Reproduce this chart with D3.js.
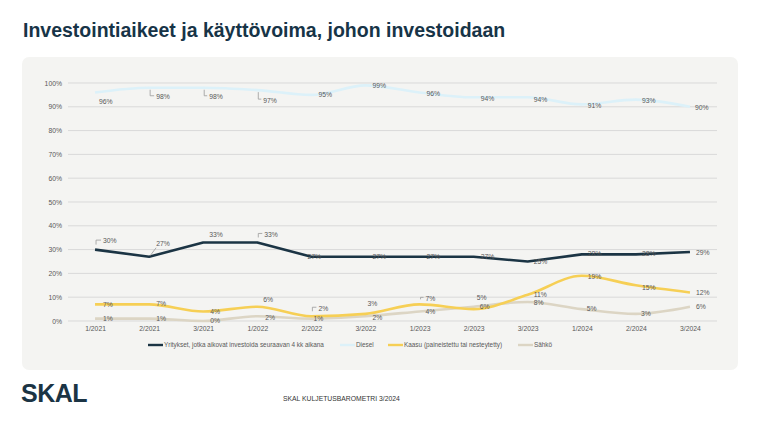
<!DOCTYPE html>
<html><head><meta charset="utf-8">
<script src="https://cdn.jsdelivr.net/npm/d3@7"></script>
<style>
html,body{margin:0;padding:0;background:#fff;}
svg{display:block;font-family:"Liberation Sans",Arial,sans-serif;}
</style></head>
<body>
<svg id="c" width="767" height="424"></svg>
<script>
// ---- data ----
const categories = ["1/2021","2/2021","3/2021","1/2022","2/2022","3/2022","1/2023","2/2023","3/2023","1/2024","2/2024","3/2024"];
const yritykset = [30,27,33,33,27,27,27,27,25,28,28,29];
const diesel    = [96,98,98,97,95,99,96,94,94,91,93,90];
const kaasu     = [7,7,4,6,2,3,7,5,11,19,15,12];
const sahko     = [1,1,0,2,1,2,4,6,8,5,3,6];
const yTicks    = [0,10,20,30,40,50,60,70,80,90,100];
const seriesNames = ["Yritykset, jotka aikovat investoida seuraavan 4 kk aikana","Diesel","Kaasu (paineistettu tai nesteytetty)","Sähkö"];
const title = "Investointiaikeet ja käyttövoima, johon investoidaan";
const footer = "SKAL KULJETUSBAROMETRI 3/2024";

// ---- label layout (offsets from the point, leader type) ----
const layYrit = [[8,-8.5,"up"],[7,-13,"diag"],[6,-7.5,""],[7,-8,"up"],[-4,0,""],[7,0,""],[7,0,""],[7,0,""],[6,0,""],[6,-1,""],[6,-1,""],[6,1,""]];
const layDiesel = [[4,9.5,""],[7,9,"down"],[6,9,"down"],[6,10,"down"],[7,0,""],[7,0,""],[7,1.5,""],[7,1,""],[6,2,""],[6,1,""],[6,1,""],[5,1,""]];
const layKaasu = [[8,0,""],[7,-1,""],[7,0,""],[6,-7,""],[7,-8,"up"],[2,-10,""],[6,-6,"up"],[3,-11,""],[6,0,""],[6,1,""],[6,2,""],[6,0,""]];
const laySahko = [[8,0,""],[7,0,""],[7,0,""],[8,1,""],[2,0,""],[7,1,""],[6,0,""],[6,0,""],[6,1,""],[5,0,""],[5,0,""],[6,0,""]];

const colors = ["#1b3444","#dcf1f9","#f6cf55","#dcd5c4"];
const series = [
  {name:seriesNames[0], values:yritykset, color:colors[0], lay:layYrit, curve:d3.curveLinear},
  {name:seriesNames[1], values:diesel, color:colors[1], lay:layDiesel, curve:d3.curveMonotoneX},
  {name:seriesNames[2], values:kaasu, color:colors[2], lay:layKaasu, curve:d3.curveMonotoneX},
  {name:seriesNames[3], values:sahko, color:colors[3], lay:laySahko, curve:d3.curveMonotoneX}
];

const svg = d3.select("#c");

// title
svg.append("text").attr("x",23).attr("y",37).attr("font-size",19.5).attr("font-weight","bold")
  .attr("fill","#173447").text(title);

// panel
svg.append("rect").attr("x",22).attr("y",57).attr("width",716).attr("height",313).attr("rx",7)
  .attr("fill","#f4f4f2");

const x = d3.scalePoint().domain(categories).range([68,717]).padding(0.5);
const y = d3.scaleLinear().domain([0,100]).range([321,83]);

// gridlines
const grid = svg.append("g");
grid.selectAll("line").data(yTicks).join("line")
  .attr("x1",68).attr("x2",717).attr("y1",d=>y(d)).attr("y2",d=>y(d))
  .attr("stroke","#d9d9d9").attr("stroke-width",1);

// y axis
const yAxis = d3.axisLeft(y).tickValues(yTicks).tickFormat(d=>d+"%").tickSize(0).tickPadding(0);
const gy = svg.append("g").attr("transform","translate(62,0)").call(yAxis);
gy.select(".domain").remove();
gy.selectAll("text").attr("font-size",6.8).attr("fill","#595959").attr("font-family","Liberation Sans, Arial, sans-serif");

// x axis
const xAxis = d3.axisBottom(x).tickSize(0).tickPadding(0);
const gx = svg.append("g").attr("transform","translate(0,326)").call(xAxis);
gx.select(".domain").remove();
gx.selectAll("text").attr("font-size",6.8).attr("fill","#595959").attr("font-family","Liberation Sans, Arial, sans-serif");

// lines (draw light ones first, dark on top)
const drawOrder = [3,2,1,0];
drawOrder.forEach(i=>{
  const s = series[i];
  const line = d3.line().x((d,j)=>x(categories[j])).y(d=>y(d)).curve(s.curve);
  svg.append("path").datum(s.values).attr("d",line).attr("fill","none")
    .attr("stroke",s.color).attr("stroke-width",2.6).attr("stroke-linejoin","round");
});

// data labels + leaders
series.forEach(s=>{
  const g = svg.append("g");
  s.values.forEach((v,j)=>{
    const px = x(categories[j]), py = y(v);
    const [dx,dy,lead] = s.lay[j];
    const lx = px+dx, ly = py+dy;
    if(lead==="down"||lead==="up"){
      const sy = lead==="down" ? py+2 : py-5;
      g.append("polyline").attr("points",`${px+1},${sy} ${px+1},${ly-1} ${lx-2},${ly-1}`)
        .attr("fill","none").attr("stroke","#9a9a9a").attr("stroke-width",0.8);
    } else if(lead==="diag"){
      g.append("line").attr("x1",px+1).attr("y1",py-1).attr("x2",lx).attr("y2",ly+4)
        .attr("stroke","#9a9a9a").attr("stroke-width",0.8);
    }
    g.append("text").attr("x",lx).attr("y",ly).attr("dy","0.35em")
      .attr("font-size",6.8).attr("fill","#595959").text(v+"%");
  });
});

// legend
const legendX = [148,340,388,518];
const lg = svg.append("g");
series.forEach((s,i)=>{
  lg.append("line").attr("x1",legendX[i]).attr("x2",legendX[i]+15).attr("y1",345).attr("y2",345)
    .attr("stroke",s.color).attr("stroke-width",2.4);
  lg.append("text").attr("x",legendX[i]+16).attr("y",345).attr("dy","0.35em")
    .attr("font-size",6.4).attr("fill","#595959").text(s.name);
});

// logo + footer
svg.append("text").attr("x",21).attr("y",402).attr("font-size",25).attr("font-weight","bold")
  .attr("letter-spacing",-0.5).attr("fill","#1b3444").text("SKAL");
svg.append("text").attr("x",283).attr("y",399).attr("dy","0.35em").attr("font-size",6.8)
  .attr("fill","#333").text(footer);
</script>
</body></html>
